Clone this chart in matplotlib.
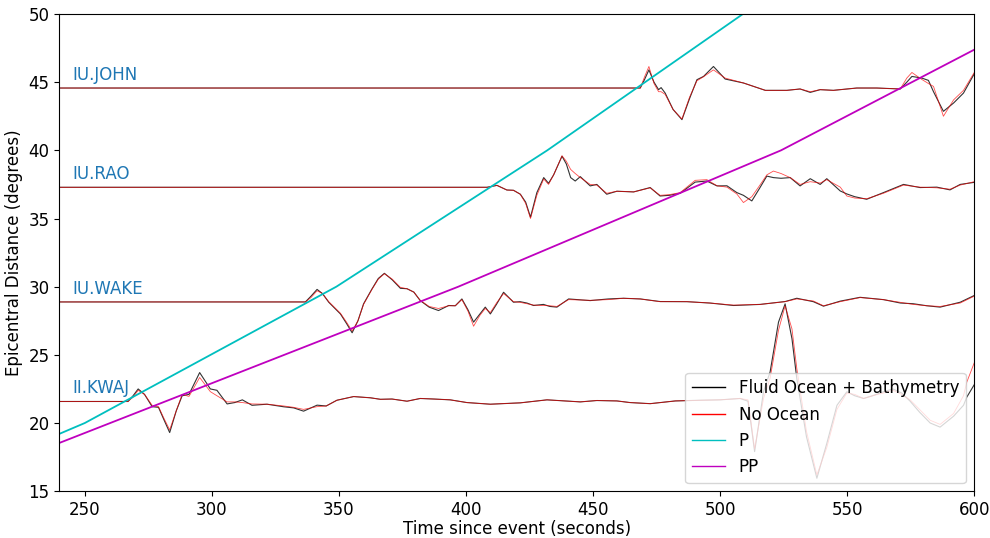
import matplotlib
matplotlib.use("Agg")
import matplotlib.pyplot as plt

# travel time curves (distance in degrees, time in seconds)
p_dist = [10, 20, 30, 40, 50, 60]
p_time = [124, 250, 349, 432, 509, 581]
pp_dist = [10, 20, 30, 40, 50]
pp_time = [123, 260, 397, 524, 627]

stations = ["II.KWAJ", "IU.WAKE", "IU.RAO", "IU.JOHN"]
baselines = [21.58, 28.88, 37.29, 44.57]

# traces, read as distance offsets (degrees) at times (s)
kwaj_t = [240, 267, 269, 271, 273.5, 276.5, 279, 281, 283.4, 286, 288.3, 291, 295.2, 299.4, 302, 306, 309, 312,
          315.8, 321.7, 328.3, 332.2, 336.1, 341.4, 345, 349.2, 355.8, 362.4, 366.3, 370.9, 376.8, 382, 387.3,
          393.8, 400.4, 409.6, 421.4, 431.9, 445, 451.5, 459.4, 464.6, 472.5, 482.4, 492.2, 500, 507.9, 511,
          513.6, 517.1, 519.7, 523, 525.6, 528.3, 530.2, 534, 538.1, 542, 546, 549.9, 553, 556.5, 560, 564.3,
          568, 571.5, 574.8, 578.5, 582.7, 586.6, 591.9, 595.8, 597.1, 600]
kwaj_black = [21.58, 21.58, 22.0, 22.5, 22.1, 21.2, 21.15, 20.3, 19.3, 20.9, 22.0, 22.1, 23.7, 22.5, 22.4, 21.4,
              21.5, 21.7, 21.3, 21.38, 21.19, 21.11, 20.87, 21.31, 21.25, 21.67, 21.94, 21.85, 21.74, 21.76, 21.6,
              21.8, 21.76, 21.7, 21.5, 21.38, 21.48, 21.7, 21.55, 21.65, 21.62, 21.5, 21.42, 21.62, 21.67, 21.7,
              21.8, 21.6, 17.9, 22.3, 23.75, 27.4, 28.74, 26.18, 23.26, 19.0, 15.95, 18.5, 21.3, 22.29, 22.0,
              21.8, 22.0, 22.29, 22.5, 22.2, 21.6, 20.8, 20.0, 19.7, 20.5, 21.3, 21.9, 22.8]
kwaj_red = [21.58, 21.58, 21.9, 22.4, 22.1, 21.3, 21.2, 20.4, 19.5, 20.9, 22.1, 21.95, 23.34, 22.3, 22.0, 21.55,
            21.55, 21.5, 21.4, 21.38, 21.25, 21.15, 21.0, 21.2, 21.25, 21.67, 21.94, 21.85, 21.74, 21.76, 21.6,
            21.8, 21.76, 21.7, 21.5, 21.38, 21.48, 21.7, 21.55, 21.65, 21.62, 21.5, 21.42, 21.62, 21.67, 21.7,
            21.8, 21.7, 18.1, 21.8, 23.3, 26.8, 28.6, 26.9, 24.0, 19.4, 16.2, 18.2, 21.0, 22.2, 22.1, 21.8, 22.0,
            22.2, 22.4, 22.1, 21.7, 21.0, 20.2, 19.9, 20.7, 22.0, 23.0, 24.4]

wake_t = [240, 336.8, 339, 341.4, 343.5, 346, 350.6, 353, 355.2, 357.5, 359.7, 363, 365.5, 367.9, 371, 374.2,
          376.8, 379.5, 382, 385.5, 389.2, 393.2, 395.8, 398.4, 400.8, 403, 405.5, 407.6, 409.6, 412, 414.8,
          418.7, 421.3, 424, 426.6, 430.5, 433, 435.8, 440.4, 448.9, 456, 462, 468.6, 476.4, 487, 496, 505.3,
          515.8, 525.6, 530.2, 536.7, 540.7, 547.3, 555.1, 564.3, 571, 576, 581.4, 586.6, 594.5, 600]
wake_black = [28.88, 28.88, 29.3, 29.8, 29.5, 28.86, 28.0, 27.3, 26.62, 27.5, 28.74, 29.83, 30.6, 30.98, 30.5,
              29.88, 29.85, 29.6, 28.98, 28.5, 28.25, 28.62, 28.6, 29.1, 28.3, 27.4, 28.0, 28.5, 28.0, 28.7,
              29.59, 28.86, 28.9, 28.8, 28.62, 28.7, 28.55, 28.5, 29.1, 28.98, 29.1, 29.15, 29.1, 28.91, 28.9,
              28.8, 28.62, 28.7, 28.91, 29.15, 28.9, 28.57, 28.94, 29.22, 29.05, 28.8, 28.75, 28.6, 28.5, 28.86,
              29.35]
wake_red = [28.88, 28.88, 29.2, 29.7, 29.5, 28.9, 28.05, 27.4, 26.75, 27.5, 28.7, 29.8, 30.55, 30.95, 30.55,
            29.95, 29.85, 29.6, 29.0, 28.55, 28.4, 28.6, 28.6, 29.05, 28.2, 27.1, 27.9, 28.4, 28.1, 28.8, 29.5,
            28.9, 28.85, 28.75, 28.65, 28.62, 28.6, 28.55, 29.05, 29.0, 29.05, 29.15, 29.1, 28.9, 28.9, 28.8,
            28.65, 28.7, 28.9, 29.1, 28.95, 28.6, 28.9, 29.2, 29.05, 28.85, 28.7, 28.6, 28.55, 28.8, 29.3]

rao_t = [240, 408.3, 412.2, 416.1, 418.7, 421.4, 423.5, 425.4, 427.9, 430.6, 432.5, 434.5, 437.8, 439.5, 441.2,
         443, 445, 448.9, 451.5, 455.4, 459.4, 466, 472.5, 476.4, 480, 484.3, 490.2, 494.8, 498.8, 502.7, 506.6,
         509.2, 512.5, 515.5, 518.4, 521, 524, 527.6, 531.5, 535.5, 539.4, 542, 547.3, 549.9, 553, 557.7, 564.3,
         572.2, 578.7, 585.3, 590.5, 594.5, 600]
rao_black = [37.29, 37.29, 37.43, 37.09, 37.07, 36.78, 36.2, 35.1, 36.9, 38.0, 37.58, 38.2, 39.57, 39.0, 38.0,
             37.75, 38.07, 37.39, 37.5, 36.78, 37.0, 36.95, 37.27, 36.65, 36.7, 36.85, 37.67, 37.75, 37.39, 37.4,
             36.9, 36.7, 36.29, 37.2, 38.11, 38.0, 37.95, 38.0, 37.39, 37.92, 37.5, 37.92, 37.02, 36.8, 36.6,
             36.41, 36.9, 37.5, 37.27, 37.3, 37.1, 37.5, 37.65]
rao_red = [37.29, 37.29, 37.43, 37.09, 37.07, 36.78, 36.1, 35.0, 36.7, 37.9, 37.5, 38.2, 39.6, 39.2, 38.6, 38.3,
           38.0, 37.5, 37.45, 36.85, 37.0, 36.95, 37.25, 36.7, 36.75, 36.9, 37.8, 37.85, 37.4, 37.3, 36.8, 36.17,
           36.6, 37.4, 38.2, 38.48, 38.3, 38.0, 37.5, 37.7, 37.6, 37.85, 37.3, 36.65, 36.5, 36.45, 36.85, 37.45,
           37.3, 37.25, 37.15, 37.45, 37.7]

john_t = [240, 468.6, 470.3, 472, 474, 475.8, 476.8, 478.4, 481.5, 485, 488, 490.9, 493.5, 497.4, 502, 509.2,
          517.8, 526.3, 531.5, 535.5, 539.4, 544.6, 553.8, 561.7, 570.9, 573.5, 575.5, 579.4, 582, 584, 587.9,
          591.9, 595.8, 600]
john_black = [44.57, 44.57, 45.2, 45.9, 45.0, 44.45, 44.6, 44.2, 43.0, 42.25, 43.8, 45.18, 45.42, 46.15, 45.23,
              44.94, 44.4, 44.4, 44.5, 44.25, 44.45, 44.4, 44.57, 44.57, 44.5, 45.0, 45.42, 45.3, 45.13, 44.3,
              42.86, 43.47, 44.2, 45.6]
john_red = [44.57, 44.57, 45.4, 46.15, 44.9, 44.3, 44.3, 44.1, 43.0, 42.3, 43.9, 45.1, 45.4, 45.9, 45.3, 44.94,
            44.4, 44.4, 44.5, 44.3, 44.45, 44.4, 44.57, 44.57, 44.5, 45.3, 45.71, 45.2, 44.9, 44.69, 42.5, 43.7,
            44.4, 45.7]

traces = [(kwaj_t, kwaj_black, kwaj_red), (wake_t, wake_black, wake_red),
          (rao_t, rao_black, rao_red), (john_t, john_black, john_red)]

plt.rcParams['font.size'] = 12
fig, ax = plt.subplots(figsize=(9.9, 5.38), dpi=100)
fig.subplots_adjust(left=0.06, right=0.984, top=0.974, bottom=0.087)

for i, (t, blk, red) in enumerate(traces):
    ax.plot(t, blk, color='k', lw=0.8, alpha=0.8, label='Fluid Ocean + Bathymetry' if i == 0 else None)
    ax.plot(t, red, color='r', lw=0.6, alpha=0.7, label='No Ocean' if i == 0 else None)
    ax.text(245, baselines[i] + 0.3, stations[i], color='#1f77b4', fontsize=12, va='bottom')

ax.plot(p_time, p_dist, color='c', lw=1.3, label='P')
ax.plot(pp_time, pp_dist, color='m', lw=1.3, label='PP')

ax.set_xlim(240, 600)
ax.set_ylim(15, 50)
ax.set_xlabel('Time since event (seconds)', labelpad=1)
ax.set_ylabel('Epicentral Distance (degrees)')
leg = ax.legend(loc='lower right', fontsize=12)
for line in leg.get_lines():
    line.set_alpha(1)
    line.set_linewidth(1.0)

fig.savefig('out.png')
